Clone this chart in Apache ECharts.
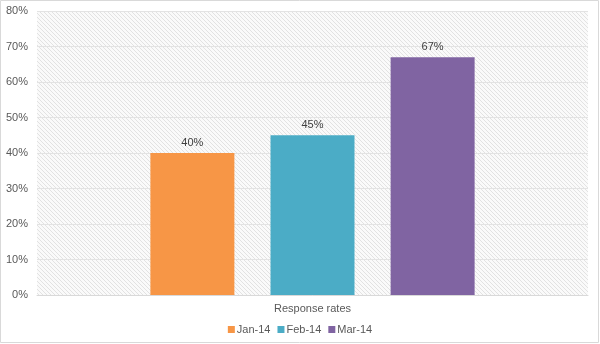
<!DOCTYPE html>
<html><head><meta charset="utf-8">
<script src="https://cdn.jsdelivr.net/npm/echarts@6/dist/echarts.min.js"></script>
<style>html,body{margin:0;padding:0;background:#fff}#c{width:600px;height:344px}</style>
</head><body><div id="c"></div>
<script>
const categories = ['Response rates'];
const seriesNames = ['Jan-14', 'Feb-14', 'Mar-14'];
const seriesValues = [[40], [45], [67]];
const colors = ['#F79646', '#4BACC6', '#8064A2'];

const pat = document.createElement('canvas');
pat.width = 4; pat.height = 4;
const g = pat.getContext('2d');
g.fillStyle = '#fafafa'; g.fillRect(0, 0, 4, 4);
g.fillStyle = '#e2e2e2';
for (let i = 0; i < 4; i++) { g.fillRect(i, i, 1, 1); }

const chart = echarts.init(document.getElementById('c'));
chart.setOption({
  animation: false,
  textStyle: { fontFamily: 'Liberation Sans, Arial, sans-serif' },
  graphic: [{ type: 'rect', shape: { x: 0.5, y: 0.5, width: 598, height: 342 }, style: { fill: 'none', stroke: '#d9d9d9', lineWidth: 1 }, silent: true }],
  grid: { left: 37, right: 12, top: 11, bottom: 49, show: true, borderWidth: 0, backgroundColor: { image: pat, repeat: 'repeat' } },
  legend: { bottom: 4, itemWidth: 7, itemHeight: 7, itemGap: 7, icon: 'rect', textStyle: { color: '#595959', fontSize: 11, padding: [0, 0, 0, -3] }, data: seriesNames },
  xAxis: { type: 'category', data: categories, axisLine: { show: true, lineStyle: { color: '#d9d9d9' } }, axisTick: { show: false }, axisLabel: { color: '#595959', fontSize: 11, margin: 8 } },
  yAxis: { type: 'value', min: 0, max: 80, interval: 10, axisLabel: { formatter: '{value}%', color: '#595959', fontSize: 11, margin: 9 }, splitLine: { lineStyle: { color: '#e3e3e3' } }, axisLine: { show: false }, axisTick: { show: false } },
  series: seriesNames.map((n, i) => ({
    name: n, type: 'bar', data: seriesValues[i], barWidth: 84, barGap: '43%',
    itemStyle: { color: colors[i] },
    label: { show: true, position: 'top', formatter: '{c}%', color: '#404040', fontSize: 11, distance: 5 }
  }))
});
</script></body></html>
